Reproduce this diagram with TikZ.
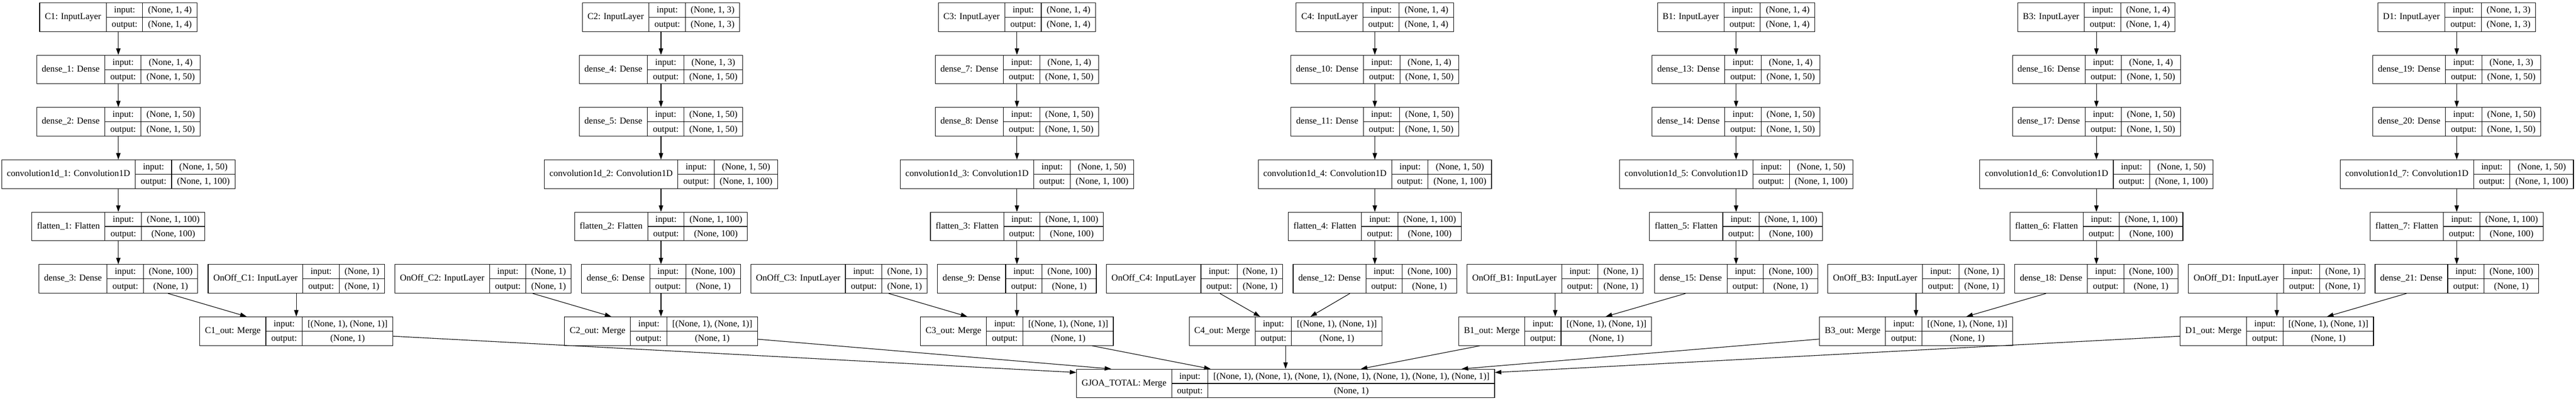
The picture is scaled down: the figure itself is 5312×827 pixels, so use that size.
\documentclass[tikz,border=0pt]{standalone}
\usepackage{fontspec}
\setmainfont{Liberation Serif}
\usetikzlibrary{arrows.meta}

\newcommand\kfont{\fontsize{18.67}{22.4}\selectfont}
\newcommand\kstrut{\rule[-8.9pt]{0pt}{29pt}}
\newcommand\kpad{@{\hspace{10.67pt}}}
\setlength\arrayrulewidth{1.2pt}

\tikzset{
  layer/.style={draw, line width=1.2pt, inner sep=0pt, font=\kfont},
  edge/.style={line width=1.2pt, -{Triangle[length=13.3pt,width=9pt]}},
}

% one layer box: name, centre x, row, label, input shape, output shape
\newcommand\klayer[6]{%
  \node[layer] (#1) at (#2,-35.5-108*#3) {%
    \begin{tabular}{@{\hspace{10.67pt}}c@{\hspace{10.67pt}}|@{}c@{}}
      #4 & \begin{tabular}{@{\hspace{10.67pt}}c@{\hspace{10.67pt}}|@{\hspace{10.67pt}}c@{\hspace{10.67pt}}}
        \kstrut input: & #5 \\ \hline
        \kstrut output: & #6
      \end{tabular}
    \end{tabular}};
}

\begin{document}
\begin{tikzpicture}[x=1pt, y=1pt]
\useasboundingbox (0,0) rectangle (5312,-827);

% seven branches: index/name/input dim/chain x/onoff x/merge x
\foreach \i/\n/\d/\cx/\ox/\mx in {1/C1/4/244/611/611, 2/C2/3/1363/996/1363,
    3/C3/4/2097/1730/2097, 4/C4/4/2835/2463/2651, 5/B1/4/3580/3207/3207,
    6/B3/4/4323/3951/3951, 7/D1/3/5066/4695/4695}{
  \pgfmathtruncatemacro\da{3*\i-2}
  \pgfmathtruncatemacro\db{3*\i-1}
  \pgfmathtruncatemacro\dc{3*\i}
  \klayer{\n-in}{\cx}{0}{\n: InputLayer}{(None, 1, \d)}{(None, 1, \d)}
  \klayer{\n-da}{\cx}{1}{dense\_\da: Dense}{(None, 1, \d)}{(None, 1, 50)}
  \klayer{\n-db}{\cx}{2}{dense\_\db: Dense}{(None, 1, 50)}{(None, 1, 50)}
  \klayer{\n-conv}{\cx}{3}{convolution1d\_\i: Convolution1D}{(None, 1, 50)}{(None, 1, 100)}
  \klayer{\n-flat}{\cx}{4}{flatten\_\i: Flatten}{(None, 1, 100)}{(None, 100)}
  \klayer{\n-dc}{\cx}{5}{dense\_\dc: Dense}{(None, 100)}{(None, 1)}
  \klayer{\n-onoff}{\ox}{5}{OnOff\_\n: InputLayer}{(None, 1)}{(None, 1)}
  \klayer{\n-out}{\mx}{6}{\n\_out: Merge}{[(None, 1), (None, 1)]}{(None, 1)}
  \draw[edge] (\n-in) -- (\n-da);
  \draw[edge] (\n-da) -- (\n-db);
  \draw[edge] (\n-db) -- (\n-conv);
  \draw[edge] (\n-conv) -- (\n-flat);
  \draw[edge] (\n-flat) -- (\n-dc);
  \draw[edge] (\n-dc) -- (\n-out);
  \draw[edge] (\n-onoff) -- (\n-out);
}

\klayer{gjoa}{2651}{7}{GJOA\_TOTAL: Merge}{[(None, 1), (None, 1), (None, 1), (None, 1), (None, 1), (None, 1), (None, 1)]}{(None, 1)}
\foreach \n in {C1,C2,C3,C4,B1,B3,D1}
  \draw[edge] (\n-out) -- (gjoa);
\end{tikzpicture}
\end{document}
